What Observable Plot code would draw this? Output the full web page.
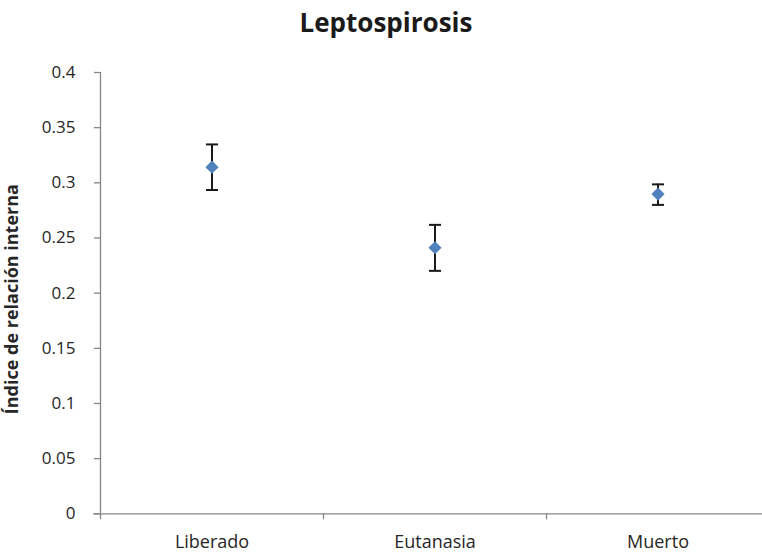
<!DOCTYPE html>
<html>
<head>
<meta charset="utf-8">
<script src="https://cdn.jsdelivr.net/npm/d3@7"></script>
<script src="https://cdn.jsdelivr.net/npm/@observablehq/plot@0.6"></script>
<style>
  html, body { margin: 0; padding: 0; background: #fff; }
  #title { width: 762px; height: 50px; box-sizing: border-box; padding-left: 10px; text-align: center;
           font-family: "Open Sans", sans-serif; font-weight: bold; font-size: 26px; line-height: 44px; color: #1a1a1a; }
</style>
</head>
<body>
<div id="title">Leptospirosis</div>
<div id="chart"></div>
<script>
const titleText = "Leptospirosis";
const yLabel = "Índice de relación interna";
const categories = ["Liberado", "Eutanasia", "Muerto"];
const means = [0.3142, 0.2412, 0.2898];
const upper = [0.3348, 0.2619, 0.2986];
const lower = [0.2935, 0.2202, 0.2800];
const yTicks = [0, 0.05, 0.1, 0.15, 0.2, 0.25, 0.3, 0.35, 0.4];

const data = categories.map((c, i) => ({cat: c, pos: i + 0.5, mean: means[i], hi: upper[i], lo: lower[i]}));
const bounds = d3.range(categories.length + 1);
const centers = categories.map((c, i) => i + 0.5);

const capSymbol = {
  draw(context, size) {
    const r = Math.sqrt(size / Math.PI);
    context.moveTo(-r, 0);
    context.lineTo(r, 0);
  }
};

const font = '"Open Sans", sans-serif';
const axisColor = "#868686";
const textColor = "#262626";

const plot = Plot.plot({
  width: 762,
  height: 502,
  marginTop: 22,
  marginBottom: 38.7,
  marginLeft: 100,
  marginRight: 0,
  style: {fontFamily: font, fontSize: "17px", color: textColor, background: "#fff"},
  x: {domain: [0, categories.length], range: [100, 769]},
  y: {domain: [0, 0.4]},
  marks: [
    Plot.ruleY([0], {stroke: axisColor, strokeWidth: 1.3, x1: -0.03, x2: 3.03}),
    Plot.ruleX([0], {stroke: axisColor, strokeWidth: 1.3}),
    Plot.axisY({ticks: yTicks, tickSize: 6, tickPadding: 19, stroke: axisColor, strokeWidth: 1.3,
      tickFormat: d => String(+d.toFixed(2)), fill: textColor, fontSize: 17, label: null}),
    Plot.axisX({ticks: bounds, tickSize: 6, stroke: axisColor, strokeWidth: 1.3, tickFormat: () => "", label: null}),
    Plot.axisX({ticks: centers, tickSize: 0, tickPadding: 21, fill: textColor, fontSize: 18,
      tickFormat: d => categories[Math.floor(d)], label: null}),
    Plot.text([yLabel], {text: d => d, frameAnchor: "left", textAnchor: "middle", rotate: -90, dx: -88, dy: 6,
      fontWeight: "bold", fontSize: 18, fill: textColor}),
    Plot.ruleX(data, {x: "pos", y1: "lo", y2: "hi", stroke: "#1a1a1a", strokeWidth: 2}),
    Plot.dot(data, {x: "pos", y: "hi", symbol: capSymbol, r: 6, stroke: "#1a1a1a", strokeWidth: 2, fill: "none"}),
    Plot.dot(data, {x: "pos", y: "lo", symbol: capSymbol, r: 6, stroke: "#1a1a1a", strokeWidth: 2, fill: "none"}),
    Plot.dot(data, {x: "pos", y: "mean", symbol: "diamond2", r: 5.9, fill: "#4F81BD", stroke: "none"})
  ]
});
document.getElementById("chart").appendChild(plot);
</script>
</body>
</html>
